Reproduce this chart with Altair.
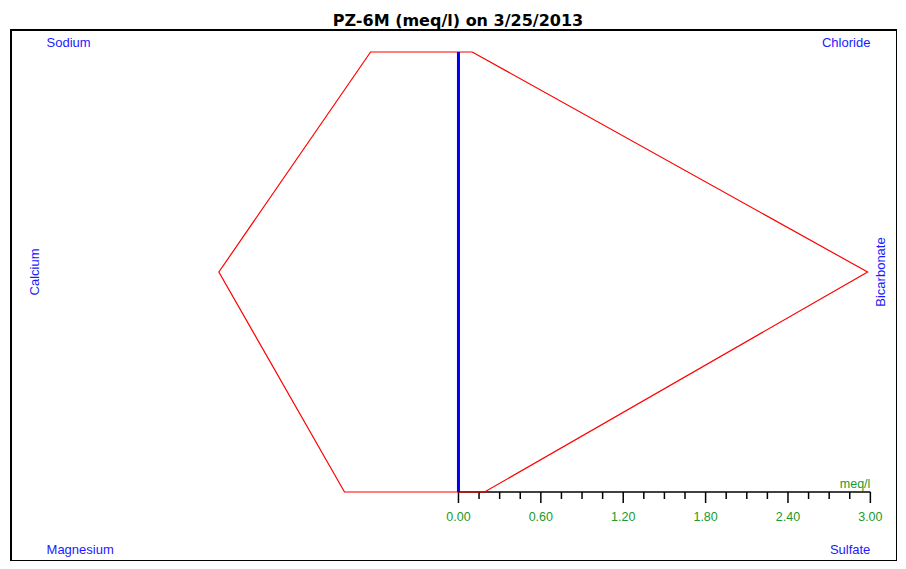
import altair as alt
import pandas as pd

# ---- data ----
cations = ["Sodium", "Calcium", "Magnesium"]
anions = ["Chloride", "Bicarbonate", "Sulfate"]
cation_meq = [0.64, 1.745, 0.83]
anion_meq = [0.10, 2.98, 0.19]
rows = [0, 1, 2]

major_ticks = [0.0, 0.6, 1.2, 1.8, 2.4, 3.0]
major_labels = ["0.00", "0.60", "1.20", "1.80", "2.40", "3.00"]
minor_ticks = [0.15, 0.30, 0.45, 0.75, 0.90, 1.05, 1.35, 1.50, 1.65,
               1.95, 2.10, 2.25, 2.55, 2.70, 2.85]

# polygon vertices: anions down the right side, cations back up the left side, closed
poly = []
k = 0
for r, v in zip(rows, anion_meq):
    poly.append({"x": v, "row": r, "o": k}); k += 1
for r, v in zip(reversed(rows), reversed(cation_meq)):
    poly.append({"x": -v, "row": r, "o": k}); k += 1
poly.append({"x": anion_meq[0], "row": rows[0], "o": k})
poly_df = pd.DataFrame(poly)

PLOT_H = 531
X = alt.Scale(domain=[-3.259, 3.194])
Y = alt.Scale(domain=[-0.1, -0.1 + PLOT_H / 220.0], reverse=True)
BLUE = "#1a1aff"
GREEN = "#22992a"
FONT = "Liberation Sans"

def xe(field):
    return alt.X(field, type="quantitative", scale=X, axis=None)

def ye(field):
    return alt.Y(field, type="quantitative", scale=Y, axis=None)

base_row = pd.DataFrame({"x0": [0.0], "x1": [major_ticks[-1]], "r0": [rows[0]], "r2": [rows[-1]]})

axis_line = alt.Chart(base_row).mark_rule(color="black", strokeWidth=1.5).encode(
    x=xe("x0"), x2="x1", y=ye("r2"))

maj_df = pd.DataFrame({"t": major_ticks, "lab": major_labels, "row": rows[-1]})
min_df = pd.DataFrame({"t": minor_ticks, "row": rows[-1]})

maj_ticks = alt.Chart(maj_df).mark_rule(color="black", strokeWidth=1.5, y2Offset=11).encode(
    x=xe("t"), y=ye("row"), y2="row")
min_ticks_l = alt.Chart(min_df).mark_rule(color="black", strokeWidth=1.5, y2Offset=7).encode(
    x=xe("t"), y=ye("row"), y2="row")
maj_text = alt.Chart(maj_df).mark_text(color=GREEN, font=FONT, fontSize=12.5, yOffset=25,
                                       baseline="middle", align="center").encode(
    x=xe("t"), y=ye("row"), text="lab")
unit_text = alt.Chart(pd.DataFrame({"t": [major_ticks[-1]], "row": [rows[-1]], "u": ["meq/l"]})).mark_text(
    color=GREEN, font=FONT, fontSize=12.5, yOffset=-8, align="right", baseline="middle").encode(
    x=xe("t"), y=ye("row"), text="u")

center = alt.Chart(base_row).mark_rule(color="#0000ee", strokeWidth=3).encode(
    x=xe("x0"), y=ye("r0"), y2="r2")

polygon = alt.Chart(poly_df).mark_line(color="red", strokeWidth=1.2).encode(
    x=xe("x"), y=ye("row"), order="o")

edge = major_ticks[-1]
lab_df = pd.DataFrame({
    "name": cations + anions,
    "side": [-edge] * 3 + [edge] * 3,
    "row": rows + rows,
})

def labels(names, align, yoff, xoff=0, angle=0):
    d = lab_df[lab_df["name"].isin(names)]
    return alt.Chart(d).mark_text(color=BLUE, font=FONT, fontSize=13, align=align,
                                  baseline="middle", yOffset=yoff, xOffset=xoff, angle=angle).encode(
        x=xe("side"), y=ye("row"), text="name")

top_l = labels([cations[0]], "left", -9)
top_r = labels([anions[0]], "right", -9)
bot_l = labels([cations[2]], "left", 58)
bot_r = labels([anions[2]], "right", 58)
mid_l = labels([cations[1]], "center", 0, xoff=-12, angle=270)
mid_r = labels([anions[1]], "center", 0, xoff=11, angle=270)

chart = alt.layer(
    axis_line, maj_ticks, min_ticks_l, maj_text, unit_text,
    polygon, center,
    top_l, top_r, bot_l, bot_r, mid_l, mid_r,
).properties(
    width=886, height=PLOT_H,
    title=alt.TitleParams("PZ-6M (meq/l) on 3/25/2013", font="DejaVu Sans", fontSize=16,
                          fontWeight="bold", color="black", anchor="middle", dx=4, offset=1),
    autosize=alt.AutoSizeParams(type="none"),
    padding={"left": 3, "top": 22, "right": 0, "bottom": 0},
).configure_view(stroke="black", strokeWidth=2)

chart.save("out.html", embed_options={"renderer": "svg", "actions": False})
